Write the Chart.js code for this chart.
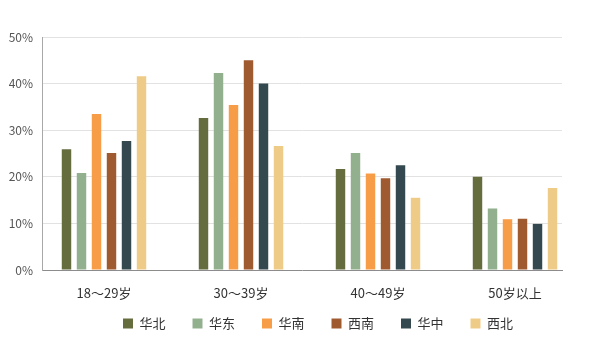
<!DOCTYPE html>
<html>
<head>
<meta charset="utf-8">
<script src="https://cdn.jsdelivr.net/npm/chart.js@4.4.1/dist/chart.umd.min.js"></script>
<style>
  html, body { margin: 0; padding: 0; background: #fff; }
  #wrap { width: 600px; height: 353px; }
</style>
</head>
<body>
<div id="wrap"><canvas id="chart"></canvas></div>
<script>
// --- Data ---
const ageGroups = ['18～29岁', '30～39岁', '40～49岁', '50岁以上'];
const regions = ['华北', '华东', '华南', '西南', '华中', '西北'];
const huabei = [25.9, 32.6, 21.7, 20.0];
const huadong = [20.8, 42.3, 25.1, 13.2];
const huanan = [33.5, 35.4, 20.7, 10.9];
const xinan = [25.1, 45.0, 19.7, 11.0];
const huazhong = [27.7, 40.0, 22.5, 9.9];
const xibei = [41.6, 26.6, 15.5, 17.6];
const yTicks = [0, 10, 20, 30, 40, 50];

const seriesValues = [huabei, huadong, huanan, xinan, huazhong, xibei];
const colors = ['#656d3f', '#92b08e', '#f79d48', '#9f5a30', '#34484f', '#efcb88'];
const FONT = "'Liberation Sans Narrow', 'Noto Sans CJK SC', sans-serif";

// the original legend sits a bit right of centre and close under the labels
const legendShift = {
  id: 'legendShift',
  afterLayout(chart) {
    const lg = chart.legend;
    if (!lg) return;
    lg.left += 37;
    lg.right += 37;
    lg.top -= 13;
    lg.bottom -= 13;
  }
};

const ctx = document.getElementById('chart').getContext('2d');
new Chart(ctx, {
  type: 'bar',
  data: {
    datasets: regions.map((name, k) => ({
      label: name,
      data: seriesValues[k].map((v, i) => ({ x: i, y: v })),
      backgroundColor: colors[k],
      categoryPercentage: 0.657,
      barPercentage: 0.63
    }))
  },
  options: {
    responsive: true,
    maintainAspectRatio: false,
    animation: false,
    layout: { padding: { top: 37, right: 38, left: 0, bottom: 0 } },
    plugins: {
      legend: {
        position: 'bottom',
        labels: {
          boxWidth: 10,
          boxHeight: 10,
          padding: 27,
          color: '#333',
          font: { family: FONT, size: 13 }
        }
      },
      tooltip: { enabled: false }
    },
    scales: {
      x: {
        type: 'linear',
        min: -0.4526,
        max: 3.343,
        offset: false,
        grid: { display: false },
        border: { display: true, color: '#8c8c8c' },
        afterFit: (s) => { s.height = 33; },
        ticks: {
          stepSize: 1,
          includeBounds: false,
          autoSkip: false,
          maxRotation: 0,
          padding: 7,
          color: '#333',
          font: { family: FONT, size: 13 },
          callback: (v) => Number.isInteger(v) ? ageGroups[v] : ''
        }
      },
      y: {
        min: 0,
        max: 50,
        afterFit: (s) => { s.width = 42; },
        afterBuildTicks: (s) => { s.ticks = yTicks.map(v => ({ value: v })); },
        grid: { color: '#e2e2e2', drawTicks: false },
        border: { display: true, color: '#a8a8a8' },
        ticks: {
          padding: 9,
          color: '#555',
          font: { family: FONT, size: 12 },
          callback: (v) => v + '%'
        }
      }
    }
  },
  plugins: [legendShift]
});
</script>
</body>
</html>
